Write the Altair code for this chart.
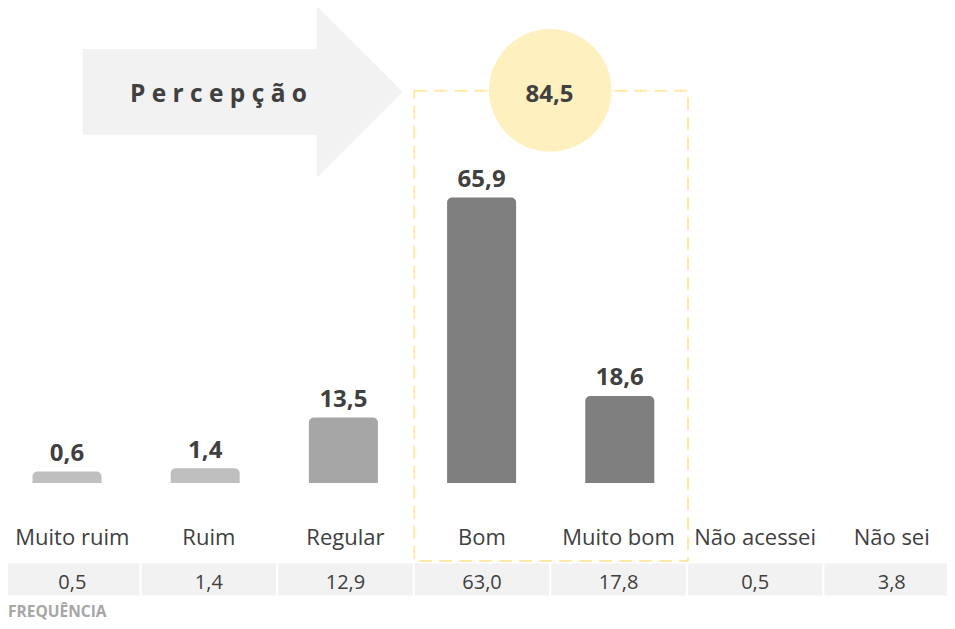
import altair as alt
import pandas as pd

# ---- data ----
categories = ["Muito ruim", "Ruim", "Regular", "Bom", "Muito bom", "Não acessei", "Não sei"]
perception = [0.6, 1.4, 13.5, 65.9, 18.6]          # first five categories
frequency = [0.5, 1.4, 12.9, 63.0, 17.8, 0.5, 3.8]
top_box = 84.5
title_text = "P e r c e p ç ã o"
freq_title = "FREQUÊNCIA"

# ---- styles ----
bar_colors = ["#bfbfbf", "#bfbfbf", "#a6a6a6", "#7f7f7f", "#7f7f7f"]
FONT = "Open Sans"
DARK = "#404040"
BAR_FLOOR = -2.146   # bars start a little below zero, as in the original


def fmt(v):
    return f"{v:.1f}".replace(".", ",")


bars_df = pd.DataFrame({"cat": categories[:5], "v": perception,
                        "label": [fmt(v) for v in perception]})
freq_df = pd.DataFrame({"cat": categories, "f": frequency,
                        "label": [fmt(v) for v in frequency]})
one = pd.DataFrame({"title": [title_text], "top": [fmt(top_box)], "ft": [freq_title]})

xb = alt.X("cat:N", axis=None,
           scale=alt.Scale(domain=categories, range=[-10.1, 957.3], paddingInner=0, paddingOuter=0))
xl = alt.X("cat:N", axis=None,
           scale=alt.Scale(domain=categories, range=[-4, 952], paddingInner=0, paddingOuter=0))
yb = alt.Y("v:Q", axis=None, scale=alt.Scale(domain=[0, 100], range=[466, 46.6]))

arrow_path = ("M -1 -0.268 L 0.4625 -0.268 L 0.4625 -0.537 L 1 0 "
              "L 0.4625 0.537 L 0.4625 0.268 L -1 0.268 Z")

arrow = alt.Chart(one).mark_point(shape=arrow_path, size=102400, filled=True,
                                  fill="#f2f2f2", opacity=1, strokeWidth=0).encode(
    x=alt.value(234.7), y=alt.value(83.85))

title = alt.Chart(one).mark_text(font=FONT, fontSize=24.5, fontWeight="bold", color=DARK,
                                 baseline="alphabetic").encode(
    x=alt.value(210.5), y=alt.value(93.7), text="title:N")

box = alt.Chart(one).mark_rect(fillOpacity=0, stroke="#ffe9a8", strokeWidth=2,
                               strokeDash=[13, 7]).encode(
    x=alt.value(406.3), x2=alt.value(680), y=alt.value(82.7), y2=alt.value(553))

circle = alt.Chart(one).mark_point(shape="circle", size=15031, filled=True,
                                   fill="#fff0c0", opacity=1, strokeWidth=0).encode(
    x=alt.value(542.3), y=alt.value(82.4))

circle_text = alt.Chart(one).mark_text(font=FONT, fontSize=24, fontWeight="bold", color=DARK,
                                       baseline="alphabetic").encode(
    x=alt.value(541.5), y=alt.value(93.7), text="top:N")

bars = alt.Chart(bars_df).mark_bar(width=69, cornerRadiusTopLeft=5, cornerRadiusTopRight=5).encode(
    x=xb, y=yb, y2=alt.datum(BAR_FLOOR),
    color=alt.Color("cat:N", legend=None,
                    scale=alt.Scale(domain=categories[:5], range=bar_colors)))

bar_labels = alt.Chart(bars_df).mark_text(font=FONT, fontSize=24, fontWeight="bold", color=DARK,
                                          baseline="alphabetic", dy=-10.5).encode(
    x=xb, y=yb, text="label:N")

cat_labels = alt.Chart(freq_df).mark_text(font=FONT, fontSize=22, color=DARK,
                                          baseline="alphabetic").encode(
    x=xl, y=alt.value(537), text="cat:N")

cells = alt.Chart(freq_df).mark_bar(width=134.5, color="#f2f2f2").encode(
    x=xl, y=alt.value(555.5), y2=alt.value(587.5))

freq_text = alt.Chart(freq_df).mark_text(font=FONT, fontSize=20, color=DARK,
                                         baseline="alphabetic").encode(
    x=xl, y=alt.value(581), text="label:N")

freq_label = alt.Chart(one).mark_text(font=FONT, fontSize=15.5, fontWeight="bold",
                                      color="#a6a6a6", align="left",
                                      baseline="alphabetic").encode(
    x=alt.value(0), y=alt.value(609), text="ft:N")

chart = alt.layer(
    arrow, title, box, circle, circle_text, bars, bar_labels,
    cat_labels, cells, freq_text, freq_label
).resolve_scale(x="independent", y="independent", color="independent").properties(
    width=939, height=613, padding=0,
    autosize=alt.AutoSizeParams(type="none"),
    background="white",
).configure_view(strokeWidth=0)

chart.save("out.html", embed_options={"renderer": "svg", "actions": False})
